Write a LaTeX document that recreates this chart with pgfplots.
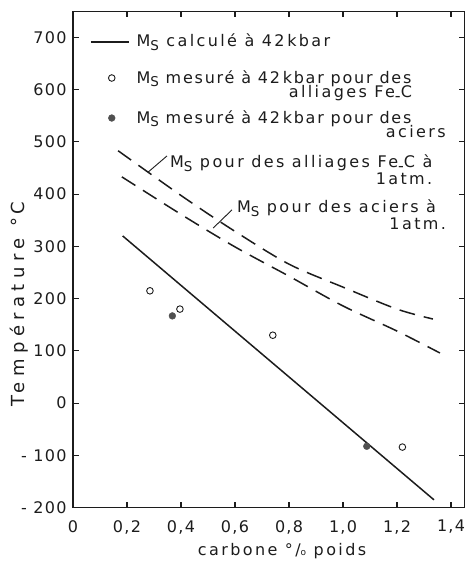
\documentclass[border=0pt]{standalone}
\usepackage{fontspec}
\setmainfont{DejaVu Sans}[LetterSpace=15]
\newfontfamily\narrowfont{DejaVu Sans}[LetterSpace=11]
\newfontfamily\tickfont{DejaVu Sans}[LetterSpace=8]
\newfontfamily\ylabfont{DejaVu Sans}[LetterSpace=30]
\usepackage{pgfplots}
\pgfplotsset{compat=1.18}

\definecolor{ink}{HTML}{1C1C1C}
\definecolor{dotgrey}{HTML}{505050}

\newcommand\txt{\fontsize{16}{15}\selectfont}
% M with subscript S, and the Fe-C alloy symbol with a low dash
\newcommand\Ms{M\raisebox{-3.3pt}{\fontsize{13.5}{13}\selectfont S}}
\newcommand\FeC{Fe\raisebox{-0.25em}{-}C}

% legend samples: a short line, or a single mark, in a 38pt wide slot
\pgfplotsset{
  line sample/.style={legend image code/.code={\path (0pt,0pt) (38pt,0pt); \draw[##1] (0pt,4.5pt) -- (38pt,4.5pt);}},
  mark sample/.style={legend image code/.code={\path (0pt,0pt) (38pt,0pt); \draw[##1] plot coordinates {(21pt,5pt)};}},
}

\begin{document}
\begin{tikzpicture}[font=\txt, color=ink]
\begin{axis}[
  scale only axis, width=391.5pt, height=496.5pt,
  xmin=0, xmax=1.45, ymin=-200, ymax=750,
  xtick={0,0.2,0.4,0.6,0.8,1.0,1.2,1.4},
  xticklabels={0,{0,2},{0,4},{0,6},{0,8},{1,0},{1,2},{1,4}},
  ytick={-200,-100,0,100,200,300,400,500,600,700},
  yticklabels={- 200,- 100,0,100,200,300,400,500,600,700},
  tick align=inside, xtick pos=both, ytick pos=both,
  major tick length=6pt,
  tick style={line width=1.1pt, color=ink},
  axis line style={line width=1.2pt, color=ink},
  every tick label/.append style={font=\tickfont\txt, text=ink},
  xticklabel style={yshift=-9pt},
  yticklabel style={xshift=-3pt},
  xlabel={carbone °/{\fontsize{9}{9}\selectfont o} poids},
  ylabel={Température\hspace{12pt}°\,C},
  every axis x label/.style={at={(axis description cs:0.534,0)}, anchor=base, yshift=-47.3pt, font=\txt},
  every axis y label/.style={at={(axis description cs:-0.125,0.410)}, anchor=base, rotate=90,
    font=\ylabfont\fontsize{18}{18}\selectfont},
  legend style={draw=none, fill=none, at={(axis cs:0.063,705)}, anchor=north west,
    inner sep=0pt, outer sep=0pt, row sep=20pt, column sep=7pt, font=\txt,
    nodes={inner sep=0pt, text height=12pt, text depth=4.3pt}, cells={anchor=base west}},
  clip=false,
]

% Ms computed at 42 kbar
\addplot[line width=1.5pt, color=ink, line sample]
  coordinates {(0.184,320) (1.337,-185)};
\addlegendentry{\Ms{} calculé à 42\,kbar}

% Ms measured at 42 kbar, Fe-C alloys
\addplot[only marks, mark=o, mark size=3.3pt, color=ink, mark options={line width=0.9pt}, mark sample]
  coordinates {(0.285,215) (0.396,180) (0.74,130) (1.22,-84)};
\addlegendentry[text depth=8pt]{\narrowfont\Ms{} mesuré à 42\,kbar pour des}

% Ms measured at 42 kbar, steels
\addplot[only marks, mark=*, mark size=3.4pt, color=dotgrey, mark options={fill=dotgrey, draw=dotgrey}, mark sample]
  coordinates {(0.368,167) (1.088,-82.5)};
\addlegendentry{\narrowfont\Ms{} mesuré à 42\,kbar pour des}

% Ms at 1 atm: Fe-C alloys (upper) and steels (lower)
\addplot[forget plot, smooth, line width=1.5pt, color=ink, dash pattern=on 16pt off 9pt]
  coordinates {(0.167,483) (0.404,396) (0.596,330) (0.8,266) (1.0,222) (1.2,180) (1.333,161)};
\addplot[forget plot, smooth, line width=1.5pt, color=ink, dash pattern=on 16pt off 9pt]
  coordinates {(0.181,433) (0.404,360) (0.6,299) (0.8,243) (1.0,186) (1.2,138) (1.359,96)};

% second lines of the two measured entries
\node[anchor=base east, inner sep=0pt] at (axis cs:1.256,585) {alliages \FeC};
\node[anchor=base east, inner sep=0pt] at (axis cs:1.381,509) {aciers};

% callouts
\draw[line width=0.9pt] (axis cs:0.278,442) -- (axis cs:0.348,473);
\node[anchor=base west, inner sep=0pt] at (axis cs:0.359,450)
  {\begin{tabular}[t]{@{}r@{}}\Ms{} pour des alliages \FeC{} à\\1atm.\end{tabular}};
\draw[line width=0.9pt] (axis cs:0.519,335) -- (axis cs:0.589,370);
\node[anchor=base west, inner sep=0pt] at (axis cs:0.607,364)
  {\begin{tabular}[t]{@{}r@{}}\Ms{} pour des aciers à\hspace*{10pt}\\1atm.\end{tabular}};
\end{axis}
\pgfresetboundingbox
\useasboundingbox (-73pt,-53.3pt) rectangle (395.5pt,507.7pt);
\end{tikzpicture}
\end{document}
